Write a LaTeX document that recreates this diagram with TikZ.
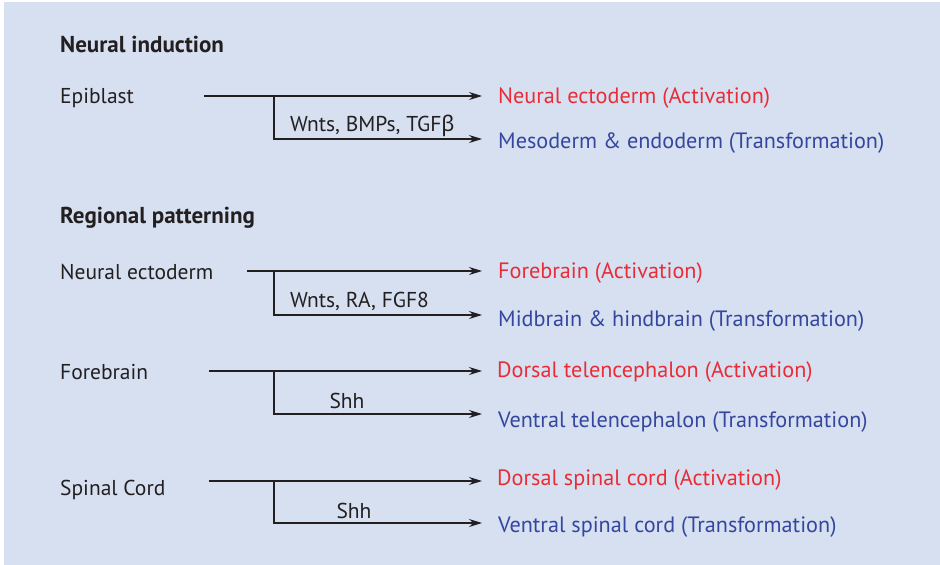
\documentclass[tikz,border=0pt]{standalone}
\usepackage{fontspec}
\setmainfont{PT Sans}
\newfontfamily\greekfont{Noto Sans}
\usetikzlibrary{arrows.meta}
\definecolor{bgblue}{RGB}{214,224,241}
\definecolor{actred}{RGB}{232,45,55}
\definecolor{trblue}{RGB}{52,70,158}
\definecolor{ink}{RGB}{35,31,32}
\tikzset{
  lbl/.style={anchor=base west,inner sep=0pt,text=ink,font=\fontsize{21.5}{24}\selectfont},
  head/.style={anchor=base west,inner sep=0pt,text=ink,font=\fontsize{23}{26}\selectfont\bfseries},
  act/.style={anchor=base west,inner sep=0pt,text=actred,font=\fontsize{22.2}{25}\selectfont},
  trf/.style={anchor=base west,inner sep=0pt,text=trblue,font=\fontsize{22.2}{25}\selectfont},
  sig/.style={anchor=base west,inner sep=0pt,text=ink,font=\fontsize{21.5}{24}\selectfont},
  sigc/.style={anchor=base,inner sep=0pt,text=ink,font=\fontsize{21.5}{24}\selectfont},
  conn/.style={draw=ink,line width=1.2pt,-{Stealth[length=13pt,width=8pt]}},
}
\begin{document}
\begin{tikzpicture}[x=1pt,y=-1pt]
\useasboundingbox (0,0) rectangle (940,565);
\fill[bgblue] (4,2) rectangle (940,565);

% Neural induction
\node[head] (h1) at (60,52) {Neural induction};
\node[lbl] (epi) at (60,103) {Epiblast};
\coordinate (s1) at (204,96);
\coordinate (b1) at (274,96);
\coordinate (e1a) at (482,96);
\coordinate (e1b) at (482,139);
\draw[conn] (s1) -- (e1a);
\draw[conn] (b1) |- (e1b);
\node[sig] (g1) at (290,131) {Wnts, BMPs, TGF{\greekfont β}};
\node[act] (t1a) at (498,103) {Neural ectoderm (Activation)};
\node[trf] (t1b) at (498,148) {Mesoderm \& endoderm (Transformation)};

% Regional patterning
\node[head] (h2) at (60,223) {Regional patterning};
\node[lbl] (ne) at (60,279) {Neural ectoderm};
\coordinate (s2) at (247,271);
\coordinate (b2) at (274,271);
\coordinate (e2a) at (482,271);
\coordinate (e2b) at (482,315);
\draw[conn] (s2) -- (e2a);
\draw[conn] (b2) |- (e2b);
\node[sig] (g2) at (290,307) {Wnts, RA, FGF8};
\node[act] (t2a) at (498,278) {Forebrain (Activation)};
\node[trf] (t2b) at (498,326) {Midbrain \& hindbrain (Transformation)};

% Forebrain
\node[lbl] (fb) at (60,379) {Forebrain};
\coordinate (s3) at (209,371);
\coordinate (b3) at (274,371);
\coordinate (e3a) at (482,371);
\coordinate (e3b) at (482,414);
\draw[conn] (s3) -- (e3a);
\draw[conn] (b3) |- (e3b);
\node[sigc] (g3) at (347,408) {Shh};
\node[act] (t3a) at (497,377) {Dorsal telencephalon (Activation)};
\node[trf] (t3b) at (498,427) {Ventral telencephalon (Transformation)};

% Spinal cord
\node[lbl] (sc) at (60,495) {Spinal Cord};
\coordinate (s4) at (209,481);
\coordinate (b4) at (274,481);
\coordinate (e4a) at (482,481);
\coordinate (e4b) at (482,523);
\draw[conn] (s4) -- (e4a);
\draw[conn] (b4) |- (e4b);
\node[sigc] (g4) at (354,518) {Shh};
\node[act] (t4a) at (497,485) {Dorsal spinal cord (Activation)};
\node[trf] (t4b) at (498,532) {Ventral spinal cord (Transformation)};
\end{tikzpicture}
\end{document}
